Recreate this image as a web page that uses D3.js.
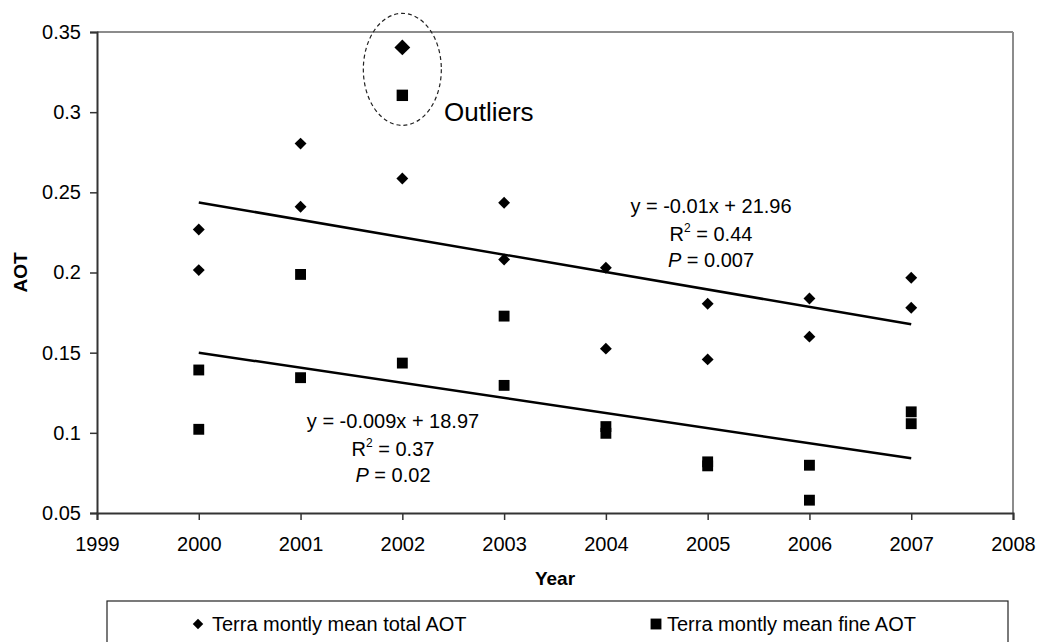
<!DOCTYPE html>
<html>
<head>
<meta charset="utf-8">
<script src="https://cdn.jsdelivr.net/npm/d3@7"></script>
<style>
  body { margin: 0; background: #fff; }
  svg { display: block; font-family: "Liberation Sans", Arial, sans-serif; }
</style>
</head>
<body>
<svg id="chart" width="1039" height="642"></svg>
<script>
// Terra monthly mean AOT, two months per year
const totalYears  = [2000, 2000, 2001, 2001, 2002, 2003, 2003, 2004, 2004, 2005, 2005, 2006, 2006, 2007, 2007];
const totalValues = [0.2268, 0.2015, 0.2804, 0.241, 0.2586, 0.2435, 0.2081, 0.203, 0.1525, 0.1805, 0.1458, 0.1838, 0.160, 0.1967, 0.178];
const fineYears   = [2000, 2000, 2001, 2001, 2002, 2003, 2003, 2004, 2004, 2005, 2005, 2006, 2006, 2007, 2007];
const fineValues  = [0.1392, 0.1022, 0.1988, 0.1344, 0.1435, 0.1728, 0.1296, 0.1039, 0.0997, 0.0819, 0.0794, 0.0798, 0.058, 0.1131, 0.1057];

// Outlier months (2002)
const outlierYears  = [2002, 2002];
const outlierValues = [0.3404, 0.3105];
const outlierSeries = ["total", "fine"];

// Linear trends y = slope * x + intercept
const trendSlopes     = [-0.01086, -0.00941];
const trendIntercepts = [21.9637, 18.97];
const trendRange      = [2000, 2007];

const equationLines = [
  ["y = -0.01x + 21.96", "0.44", "0.007"],
  ["y = -0.009x + 18.97", "0.37", "0.02"]
];

const xTicks = [1999, 2000, 2001, 2002, 2003, 2004, 2005, 2006, 2007, 2008];
const yTicks = [0.05, 0.1, 0.15, 0.2, 0.25, 0.3, 0.35];
const legendLabels = ["Terra montly mean total AOT", "Terra montly mean fine AOT"];

const svg = d3.select("#chart");
const m = { left: 97, top: 32, right: 1013, bottom: 513 };

const x = d3.scaleLinear().domain([1999, 2008]).range([m.left, m.right]);
const y = d3.scaleLinear().domain([0.05, 0.35]).range([m.bottom, m.top]);

// plot frame (top & right)
svg.append("line").attr("x1", m.left).attr("x2", m.right).attr("y1", m.top).attr("y2", m.top)
  .attr("stroke", "#8c8c8c").attr("stroke-width", 2);
svg.append("line").attr("x1", m.right).attr("x2", m.right).attr("y1", m.top).attr("y2", m.bottom)
  .attr("stroke", "#8c8c8c").attr("stroke-width", 2);

// axes
const yAxis = d3.axisLeft(y).tickValues(yTicks).tickSize(7).tickPadding(9)
  .tickFormat(d => d3.format("")(+d.toFixed(2)));
const xAxis = d3.axisBottom(x).tickValues(xTicks).tickSize(7).tickPadding(17)
  .tickFormat(d3.format("d"));

const gy = svg.append("g").attr("transform", `translate(${m.left},0)`).call(yAxis);
const gx = svg.append("g").attr("transform", `translate(0,${m.bottom})`).call(xAxis);
[gx, gy].forEach(g => {
  g.select(".domain").attr("stroke", "#333").attr("stroke-width", 2);
  g.selectAll(".tick line").attr("stroke", "#333").attr("stroke-width", 1.5);
  g.selectAll(".tick text").attr("fill", "#000").style("font-size", "20px")
    .style("font-family", "'Liberation Sans', Arial, sans-serif");
});

// axis titles
svg.append("text").attr("x", (m.left + m.right) / 2).attr("y", 585)
  .attr("text-anchor", "middle").style("font-weight", "bold").style("font-size", "19px").text("Year");
svg.append("text").attr("transform", `translate(27,${(m.top + m.bottom) / 2}) rotate(-90)`)
  .attr("text-anchor", "middle").style("font-weight", "bold").style("font-size", "19px").text("AOT");

// trend lines
trendSlopes.forEach((s, i) => {
  const b = trendIntercepts[i];
  svg.append("line")
    .attr("x1", x(trendRange[0])).attr("y1", y(s * trendRange[0] + b))
    .attr("x2", x(trendRange[1])).attr("y2", y(s * trendRange[1] + b))
    .attr("stroke", "#000").attr("stroke-width", 2.5);
});

const diamond = d3.symbol().type(d3.symbolDiamond2);
const square = d3.symbol().type(d3.symbolSquare);

// total AOT diamonds
svg.append("g").selectAll("path").data(totalValues).join("path")
  .attr("transform", (d, i) => `translate(${x(totalYears[i])},${y(d)})`)
  .attr("d", diamond.size(90)())
  .attr("fill", "#000");

// fine AOT squares
svg.append("g").selectAll("path").data(fineValues).join("path")
  .attr("transform", (d, i) => `translate(${x(fineYears[i])},${y(d)})`)
  .attr("d", square.size(118)())
  .attr("fill", "#000");

// outliers
svg.append("g").selectAll("path").data(outlierValues).join("path")
  .attr("transform", (d, i) => `translate(${x(outlierYears[i])},${y(d)})`)
  .attr("d", (d, i) => outlierSeries[i] === "total" ? diamond.size(160)() : square.size(130)())
  .attr("fill", "#000");

// dashed ring around outliers
const oy = d3.extent(outlierValues);
svg.append("ellipse")
  .attr("cx", x(2002)).attr("cy", (y(oy[0]) + y(oy[1])) / 2 - 2)
  .attr("rx", 39).attr("ry", 56)
  .attr("fill", "none").attr("stroke", "#222").attr("stroke-width", 1.2)
  .attr("stroke-dasharray", "4,3");
svg.append("text").attr("x", 444).attr("y", 121).style("font-size", "26px").text("Outliers");

// regression annotations
const eqPos = [[711, 213], [393, 428]];
equationLines.forEach((lines, i) => {
  const [cx, by] = eqPos[i];
  const g = svg.append("g").style("font-size", "20px").attr("text-anchor", "middle");
  g.append("text").attr("x", cx).attr("y", by).text(lines[0]);
  const r = g.append("text").attr("x", cx).attr("y", by + 28);
  r.append("tspan").text("R");
  r.append("tspan").attr("dy", -9).style("font-size", "12px").text("2");
  r.append("tspan").attr("dy", 9).text(" = " + lines[1]);
  const p = g.append("text").attr("x", cx).attr("y", by + 54);
  p.append("tspan").style("font-style", "italic").text("P");
  p.append("tspan").text("  = " + lines[2]);
});

// legend
svg.append("rect").attr("x", 107).attr("y", 601).attr("width", 901).attr("height", 60)
  .attr("fill", "none").attr("stroke", "#222").attr("stroke-width", 1.2);
const legX = [198, 656];
legendLabels.forEach((lab, i) => {
  svg.append("path")
    .attr("transform", `translate(${legX[i]},624)`)
    .attr("d", i === 0 ? diamond.size(70)() : square.size(118)())
    .attr("fill", "#000");
  svg.append("text").attr("x", legX[i] + (i === 0 ? 14 : 11)).attr("y", 631)
    .style("font-size", "20px").text(lab);
});
</script>
</body>
</html>
